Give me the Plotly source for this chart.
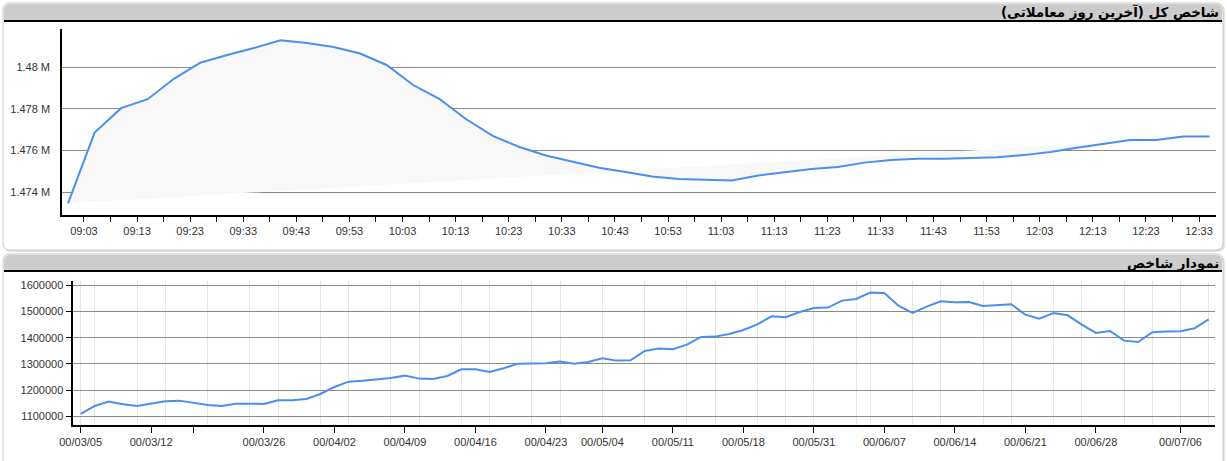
import plotly.graph_objects as go

# ---------------- data ----------------
intraday_times = [
    "09:00", "09:05", "09:10", "09:15", "09:20", "09:25", "09:30", "09:35", "09:40", "09:45",
    "09:50", "09:55", "10:00", "10:05", "10:10", "10:15", "10:20", "10:25", "10:30", "10:35",
    "10:40", "10:45", "10:50", "10:55", "11:00", "11:05", "11:10", "11:15", "11:20", "11:25",
    "11:30", "11:35", "11:40", "11:45", "11:50", "11:55", "12:00", "12:05", "12:10", "12:15",
    "12:20", "12:25", "12:30", "12:35",
]
intraday_values = [
    1473470, 1476860, 1478030, 1478460, 1479450, 1480220, 1480580, 1480910, 1481280, 1481150,
    1480960, 1480650, 1480100, 1479140, 1478460, 1477500, 1476700, 1476170, 1475760, 1475450,
    1475170, 1474970, 1474750, 1474640, 1474600, 1474560, 1474800, 1474960, 1475120, 1475210,
    1475420, 1475550, 1475600, 1475610, 1475640, 1475680, 1475780, 1475930, 1476130, 1476300,
    1476500, 1476510, 1476670, 1476670,
]
intraday_tickvals = [1474000, 1476000, 1478000, 1480000]
intraday_ticktext = ["1.474 M", "1.476 M", "1.478 M", "1.48 M"]

daily_values = [
    1108900, 1139400, 1156000, 1145800, 1139400, 1149600, 1157300, 1159800, 1150900, 1143300,
    1139400, 1148300, 1148300, 1147100, 1161100, 1161100, 1166200, 1185200, 1212000, 1232300,
    1236100, 1241200, 1246300, 1255200, 1243800, 1242500, 1254000, 1279400, 1279400, 1269200,
    1283200, 1301000, 1301000, 1302300, 1308700, 1301000, 1307400, 1321400, 1312500, 1313700,
    1349400, 1358300, 1355700, 1373500, 1402800, 1404100, 1414200, 1429500, 1451100, 1481700,
    1477900, 1498200, 1513500, 1514800, 1541500, 1547800, 1572000, 1570700, 1522400, 1494400,
    1518600, 1538900, 1535100, 1536400, 1521100, 1523700, 1527500, 1488000, 1472800, 1494400,
    1485500, 1449900, 1418100, 1425700, 1388800, 1383700, 1420600, 1423200, 1424400, 1435900,
    1470200,
]
daily_tick_index = [0, 5, 8, 13, 18, 23, 28, 33, 37, 42, 47, 52, 57, 62, 67, 72, 78]
daily_tick_labels = [
    "00/03/05", "00/03/12", "", "00/03/26", "00/04/02", "00/04/09", "00/04/16", "00/04/23",
    "00/05/04", "00/05/11", "00/05/18", "00/05/31", "00/06/07", "00/06/14", "00/06/21",
    "00/06/28", "00/07/06",
]
daily_grid_index = [0, 1, 4, 6, 9, 12, 14, 17, 19, 22, 24, 27, 29, 32, 34, 37, 40, 43, 45,
                    48, 50, 52, 55, 56, 59, 61, 64, 66, 69, 71, 74, 76, 78, 80]
daily_tickvals = [1100000, 1200000, 1300000, 1400000, 1500000, 1600000]

title_top = "شاخص کل (آخرین روز معاملاتی)"
title_bottom = "نمودار شاخص"

# ---------------- layout helpers ----------------
W, H = 1227, 461
DAY = "2021-01-01 "


def fx(x):
    return x / W


def fy(y):
    return 1 - y / H


def rrect(x0, y0, x1, y1, r, top_only=False):
    """rounded rect path in paper coords from pixel coords"""
    p = []
    p.append(f"M{fx(x0)},{fy(y0 + r)}")
    p.append(f"Q{fx(x0)},{fy(y0)} {fx(x0 + r)},{fy(y0)}")
    p.append(f"L{fx(x1 - r)},{fy(y0)}")
    p.append(f"Q{fx(x1)},{fy(y0)} {fx(x1)},{fy(y0 + r)}")
    if top_only:
        p.append(f"L{fx(x1)},{fy(y1)}")
        p.append(f"L{fx(x0)},{fy(y1)}")
    else:
        p.append(f"L{fx(x1)},{fy(y1 - r)}")
        p.append(f"Q{fx(x1)},{fy(y1)} {fx(x1 - r)},{fy(y1)}")
        p.append(f"L{fx(x0 + r)},{fy(y1)}")
        p.append(f"Q{fx(x0)},{fy(y1)} {fx(x0)},{fy(y1 - r)}")
    p.append("Z")
    return " ".join(p)


shapes = []
# panel shadows + bodies
for (y0, y1) in [(3, 250), (254, 470)]:
    shapes.append(dict(type="path", path=rrect(4, y0 + 2, 1225, y1 + 2, 7),
                       xref="paper", yref="paper", fillcolor="#e4e4e4",
                       line=dict(width=0), layer="below"))
    shapes.append(dict(type="path", path=rrect(3, y0, 1223, y1, 7),
                       xref="paper", yref="paper", fillcolor="white",
                       line=dict(color="#c8c8c8", width=1), layer="below"))
# header bars
for (y0, y1) in [(4, 20), (255, 270)]:
    shapes.append(dict(type="path", path=rrect(4, y0, 1222, y1, 6, top_only=True),
                       xref="paper", yref="paper", fillcolor="#cccccc",
                       line=dict(width=0), layer="below"))
    shapes.append(dict(type="line", x0=fx(4), x1=fx(1222), y0=fy(y1 + 1), y1=fy(y1 + 1),
                       xref="paper", yref="paper", line=dict(color="black", width=2),
                       layer="below"))

fig = go.Figure()

x_intraday = [DAY + t for t in intraday_times]
fig.add_trace(go.Scatter(
    x=x_intraday, y=intraday_values, mode="lines", fill="toself",
    fillcolor="#f8f8f8", line=dict(width=0), hoverinfo="skip",
    xaxis="x", yaxis="y", showlegend=False))
fig.add_trace(go.Scatter(
    x=x_intraday, y=intraday_values, mode="lines",
    line=dict(color="#4a8ff0", width=2), xaxis="x", yaxis="y", showlegend=False))

fig.add_trace(go.Scatter(
    x=list(range(len(daily_values))), y=daily_values, mode="lines",
    line=dict(color="#4a8ff0", width=2), xaxis="x2", yaxis="y2", showlegend=False))

grid_col = "#8a8a8a"
fig.update_layout(
    template="none",
    width=W, height=H,
    margin=dict(l=0, r=0, t=0, b=0, pad=0, autoexpand=False),
    paper_bgcolor="white", plot_bgcolor="rgba(0,0,0,0)",
    font=dict(family="Liberation Sans, Arial, sans-serif", size=11, color="#333333"),
    shapes=shapes,
    xaxis=dict(
        domain=[fx(62), fx(1216)], anchor="y", type="date", automargin=False,
        range=[DAY + "08:58:52", DAY + "12:36:12"],
        tick0=DAY + "09:03", dtick=600000, tickformat="%H:%M",
        ticks="outside", ticklen=5, tickcolor="black", tickwidth=1,
        minor=dict(tick0=DAY + "09:03", dtick=300000, ticks="outside", ticklen=5,
                   tickcolor="black", tickwidth=1, showgrid=False),
        showline=True, linecolor="black", linewidth=1.5, showgrid=False, zeroline=False,
    ),
    yaxis=dict(
        domain=[fy(215), fy(29.3)], anchor="x", automargin=False,
        range=[1472910, 1481810],
        tickvals=intraday_tickvals, ticktext=intraday_ticktext,
        ticks="", ticklabelstandoff=8,
        showline=True, linecolor="black", linewidth=1.5,
        showgrid=True, gridcolor=grid_col, gridwidth=1, zeroline=False,
    ),
    xaxis2=dict(
        domain=[fx(73.3), fx(1215)], anchor="y2", automargin=False,
        range=[-0.52, 80.45],
        tickvals=daily_tick_index, ticktext=daily_tick_labels,
        ticks="outside", ticklen=6, tickcolor="black", tickwidth=1,
        minor=dict(tickvals=daily_grid_index, showgrid=True, gridcolor="#e6e6e6",
                   gridwidth=1, ticks=""),
        showline=True, linecolor="black", linewidth=1.5, showgrid=False, zeroline=False,
    ),
    yaxis2=dict(
        domain=[fy(425), fy(281)], anchor="x2", automargin=False,
        range=[1066800, 1616400],
        tickvals=daily_tickvals, tickformat="d",
        ticks="outside", ticklen=6, tickcolor="black", tickwidth=1,
        showline=True, linecolor="black", linewidth=1.5,
        showgrid=True, gridcolor=grid_col, gridwidth=1, zeroline=False,
    ),
    annotations=[
        dict(text="<b>" + title_top + "</b>", x=fx(1221), y=fy(12), xref="paper", yref="paper",
             xanchor="right", yanchor="middle", showarrow=False,
             font=dict(family="DejaVu Sans", size=13.4, color="black")),
        dict(text="<b>" + title_bottom + "</b>", x=fx(1221), y=fy(263), xref="paper",
             yref="paper", xanchor="right", yanchor="middle", showarrow=False,
             font=dict(family="DejaVu Sans", size=13.4, color="black")),
    ],
)

fig.write_html(
    "out.html",
    config={"displayModeBar": False},
    post_script=(
        "document.documentElement.style.margin='0';"
        "document.body.style.margin='0';document.body.style.padding='0';"
        "var d=document.getElementById('{plot_id}');"
        "d.style.position='absolute';d.style.left='0px';d.style.top='0px';"
    ),
)
